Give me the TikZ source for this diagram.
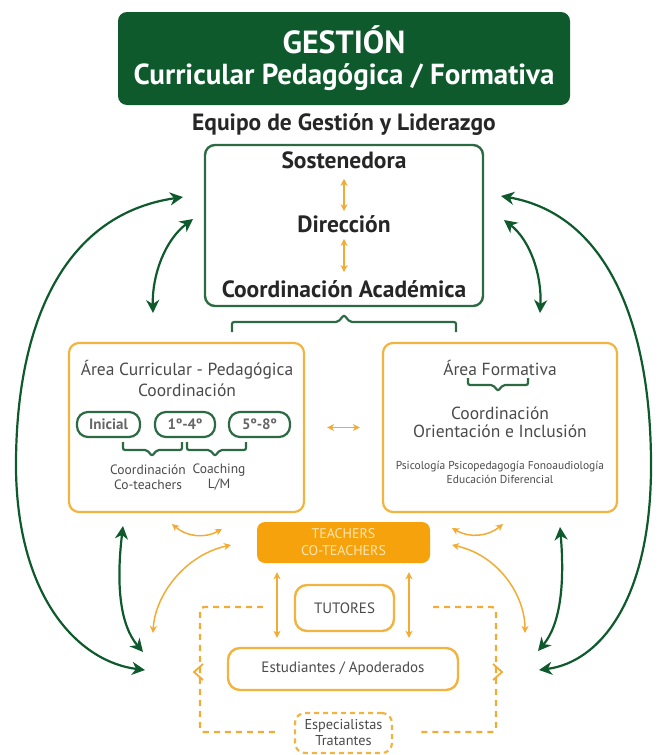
\documentclass[tikz,border=0pt]{standalone}
\usepackage{fontspec}
\setmainfont{PT Sans}
\usepackage{tikz}
\usetikzlibrary{arrows.meta,positioning,calc}

\definecolor{gdark}{HTML}{0E5A2D}
\definecolor{gline}{HTML}{2C6A44}
\definecolor{oline}{HTML}{F2B440}
\definecolor{ofill}{HTML}{F6A20C}
\definecolor{oarrow}{HTML}{F2AC35}
\definecolor{tgrey}{HTML}{4A4A4A}
\definecolor{tpale}{HTML}{FDE6B0}

\newcommand{\fsz}[2]{\fontsize{#1}{#2}\selectfont}

\tikzset{
  titlebox/.style={fill=gdark, rounded corners=9pt, minimum width=452pt, minimum height=93pt,
    text=white, font=\bfseries\fsz{29}{31}, align=center},
  boldtext/.style={font=\bfseries\fsz{23.5}{26}, text=black!85, inner sep=2pt},
  greenbox/.style={draw=gline, line width=2.4pt, rounded corners=10pt},
  orangebox/.style={draw=oline, line width=2.2pt, rounded corners=10pt},
  areatext/.style={font=\fsz{17.5}{20}, text=tgrey, inner sep=1pt},
  smalltext/.style={font=\fsz{13.5}{15}, text=tgrey, align=center, inner sep=1pt},
  tinytext/.style={font=\fsz{11.5}{14}, text=tgrey, align=center, inner sep=1pt},
  pill/.style={draw=gline, line width=2.2pt, rounded corners=11pt, minimum height=25pt,
    font=\bfseries\fsz{15}{16}, text=black!60, inner sep=1pt},
  teachbox/.style={fill=ofill, rounded corners=8pt, minimum width=173pt, minimum height=41pt,
    font=\fsz{14}{17}, text=tpale, align=center},
  stubox/.style={draw=oline, line width=2.4pt, rounded corners=12pt, font=\fsz{15}{16}, text=tgrey},
  dashbox/.style={draw=oline, line width=2.2pt, dash pattern=on 5pt off 4pt, rounded corners=10pt,
    font=\fsz{14.3}{16}, text=tgrey, align=center},
  garrow/.style={draw=gdark, line width=2.2pt,
    {Stealth[length=13pt,width=13pt,inset=4pt]}-{Stealth[length=13pt,width=13pt,inset=4pt]}},
  oarr/.style={draw=oarrow, line width=1.5pt,
    {Stealth[length=7pt,width=7pt,inset=2pt]}-{Stealth[length=7pt,width=7pt,inset=2pt]}},
  odash/.style={draw=oarrow, line width=2.2pt, dash pattern=on 6pt off 5pt, rounded corners=4pt},
  gbrace/.style={draw=gline, line width=2.2pt, rounded corners=2pt}
}

\begin{document}
\begin{tikzpicture}[x=1pt,y=-1pt]
\useasboundingbox (0,0) rectangle (659,755);
% header
\node[titlebox] (title) at (344,58.5) {{\fsz{32}{31}GESTIÓN}\\Curricular Pedagógica / Formativa};
\node[boldtext] (equipo) at (344,125) {Equipo de Gestión y Liderazgo};
% leadership box
\node[greenbox, minimum width=278pt, minimum height=161pt] (lead) at (344,225.5) {};
\node[boldtext] (sost) at (344,160) {Sostenedora};
\node[boldtext] (dir) at (344,224) {Dirección};
\node[boldtext] (acad) at (344,289) {Coordinación Académica};
\draw[gbrace] (232,332) -- (232,322) -- (338,322) -- (344,315) -- (350,322) -- (456,322) -- (456,332);
% area curricular
\node[orangebox, minimum width=235pt, minimum height=169pt] (areaL) at (186.5,427.5) {};
\node[areatext] (curr) at (187,370) {Área Curricular - Pedagógica};
\node[areatext, below=2pt of curr] (coordL) {Coordinación};
\node[pill, minimum width=63pt] (ini) at (108.5,424.5) {Inicial};
\node[pill, minimum width=60pt] (basA) at (185,424.5) {1º-4º};
\node[pill, minimum width=61pt] (basB) at (259.5,424.5) {5º-8º};
\draw[gbrace] (123,442) -- (123,450) -- (147,450) -- (152,456) -- (157,450) -- (182,450) -- (182,442);
\draw[gbrace] (187,442) -- (187,450) -- (210,450) -- (215,456) -- (220,450) -- (246,450) -- (246,442);
\node[smalltext] (coteach) at (148,477) {Coordinación\\Co-teachers};
\node[smalltext] (coach) at (219,477) {Coaching\\L/M};
% area formativa
\node[orangebox, minimum width=234pt, minimum height=169pt] (areaR) at (500,427.5) {};
\node[areatext] (form) at (500,368) {Área Formativa};
\draw[gbrace] (468,378) -- (468,385) -- (493,385) -- (498,391) -- (503,385) -- (528,385) -- (528,378);
\node[areatext] (coordR) at (500,413) {Coordinación};
\node[areatext, below=3pt of coordR] (orient) {Orientación e Inclusión};
\node[tinytext] (psico) at (500,472) {Psicología Psicopedagogía Fonoaudiología\\Educación Diferencial};
% teachers, tutors, students
\node[teachbox] (teach) at (343.5,542.5) {TEACHERS\\CO-TEACHERS};
\node[stubox, minimum width=99pt, minimum height=46pt] (tut) at (344.5,608) {TUTORES};
\node[stubox, minimum width=230pt, minimum height=42pt] (stu) at (343,669) {Estudiantes / Apoderados};
\node[dashbox, minimum width=97pt, minimum height=40pt] (esp) at (343.5,733) {Especialistas\\Tratantes};
% free ends
\coordinate (gLa) at (183,197);
\coordinate (gLb) at (145,670);
\coordinate (gLc) at (193,219);
\coordinate (gLd) at (153,313);
\coordinate (gLe) at (123,526);
\coordinate (gLf) at (143,652);
\coordinate (gRa) at (501,196);
\coordinate (gRb) at (539,670);
\coordinate (gRc) at (504,220);
\coordinate (gRd) at (540,313);
\coordinate (gRe) at (560,527);
\coordinate (gRf) at (538,651);
\coordinate (oLa) at (172,524);
\coordinate (oLb) at (222,529);
\coordinate (oLc) at (231,545);
\coordinate (oLd) at (153,633);
\coordinate (oRa) at (452,528);
\coordinate (oRb) at (503,524);
\coordinate (oRc) at (452,545);
\coordinate (oRd) at (525,633);
\coordinate (dLa) at (263,607);
\coordinate (dLm) at (200,672);
\coordinate (dLb) at (275,732);
\coordinate (dRa) at (433,607);
\coordinate (dRm) at (496,672);
\coordinate (dRb) at (420,732);
% edges
\draw[oarr, shorten <=8pt, shorten >=2pt] (sost) -- (dir);
\draw[oarr, shorten <=4pt, shorten >=6pt] (dir) -- (acad);
\draw[oarr, shorten <=22pt, shorten >=22pt] (areaL.east) -- (areaR.west);
\draw[oarr, shorten <=9pt, shorten >=9pt] (teach.south -| 277,0) -- (stu.north -| 277,0);
\draw[oarr, shorten <=9pt, shorten >=9pt] (teach.south -| 409,0) -- (stu.north -| 409,0);
\draw[oarr] (oLa) to[bend right=35] (oLb);
\draw[oarr] (oRa) to[bend right=35] (oRb);
\draw[oarr] (oLc) .. controls (185,555) and (155,595) .. (oLd);
\draw[oarr] (oRc) .. controls (498,555) and (525,595) .. (oRd);
\draw[garrow] (gLc) .. controls (165,240) and (152,275) .. (gLd);
\draw[garrow] (gRc) .. controls (530,240) and (542,275) .. (gRd);
\draw[garrow] (gLe) .. controls (116,585) and (120,625) .. (gLf);
\draw[garrow] (gRe) .. controls (565,585) and (560,625) .. (gRf);
\draw[garrow] (gLa) .. controls (60,215) and (15,330) .. (16,470) .. controls (18,600) and (80,662) .. (gLb);
\draw[garrow] (gRa) .. controls (610,215) and (652,330) .. (651,470) .. controls (650,600) and (600,662) .. (gRb);
\draw[odash] (dLa) -| (dLm) |- (dLb);
\draw[odash] (dRa) -| (dRm) |- (dRb);
\draw[draw=oarrow, line width=1.8pt] (203,664) -- (194,672) -- (203,680);
\draw[draw=oarrow, line width=1.8pt] (493,664) -- (502,672) -- (493,680);
\end{tikzpicture}
\end{document}
